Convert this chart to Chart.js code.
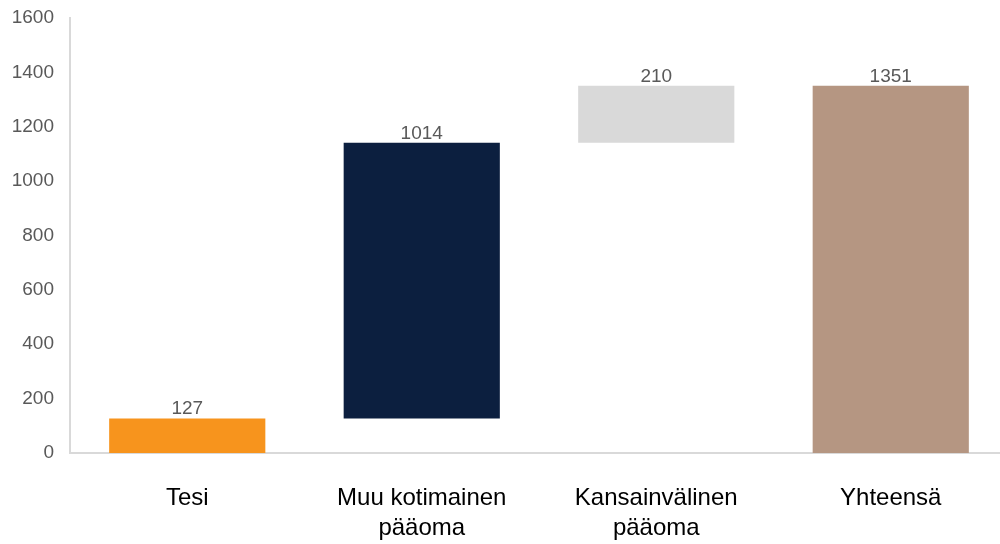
<!DOCTYPE html>
<html>
<head>
<meta charset="utf-8">
<script src="https://cdn.jsdelivr.net/npm/chart.js@4.4.1/dist/chart.umd.min.js"></script>
<style>
  html, body { margin:0; padding:0; background:#fff; overflow:hidden; width:1000px; height:544px; }
  #wrap { width:1008px; height:544px; position:relative; }
</style>
</head>
<body>
<div id="wrap"><canvas id="c"></canvas></div>
<script>
const categories = [["Tesi"], ["Muu kotimainen", "pääoma"], ["Kansainvälinen", "pääoma"], ["Yhteensä"]];
const values = [127, 1014, 210, 1351];
const isTotal = [false, false, false, true];
const barColors = ["#F7941D", "#0C1F3F", "#D9D9D9", "#B59682"];
const yTicks = [0, 200, 400, 600, 800, 1000, 1200, 1400, 1600];

// floating bars built from the values (waterfall)
let running = 0;
const floating = values.map((v, i) => {
  if (isTotal[i]) { running = v; return [0, v]; }
  const start = running; running += v; return [start, running];
});

const labelPlugin = {
  id: 'valueLabels',
  afterDatasetsDraw(chart) {
    const ctx = chart.ctx;
    const meta = chart.getDatasetMeta(0);
    ctx.save();
    ctx.font = '19px "Liberation Sans", Arial, sans-serif';
    ctx.fillStyle = '#595959';
    ctx.textAlign = 'center';
    ctx.textBaseline = 'alphabetic';
    meta.data.forEach((el, i) => {
      const top = Math.min(el.y, el.base);
      ctx.fillText(String(values[i]), el.x, top - 4);
    });
    ctx.restore();
  }
};

new Chart(document.getElementById('c'), {
  type: 'bar',
  data: {
    labels: categories,
    datasets: [{
      data: floating,
      backgroundColor: barColors,
      borderWidth: 0,
      barPercentage: 1,
      categoryPercentage: 0.666
    }]
  },
  options: {
    responsive: true,
    maintainAspectRatio: false,
    animation: false,
    layout: { padding: { top: 18, left: 0, right: 0, bottom: 0 } },
    plugins: { legend: { display: false }, tooltip: { enabled: false } },
    scales: {
      x: {
        grid: { display: false, drawTicks: false },
        border: { display: true, color: '#D9D9D9', width: 2 },
        ticks: {
          color: '#000000',
          font: { family: '"Liberation Sans", Arial, sans-serif', size: 24, lineHeight: 1.25 },
          padding: 30,
          maxRotation: 0,
          autoSkip: false
        },
        afterFit(scale) { scale.height = 91; scale.paddingLeft = 0; scale.paddingRight = 0; }
      },
      y: {
        min: 0, max: 1600,
        afterBuildTicks(scale) { scale.ticks = yTicks.map(v => ({ value: v })); },
        grid: { display: false, drawTicks: false },
        border: { display: true, color: '#D9D9D9', width: 2 },
        ticks: {
          color: '#595959',
          font: { family: '"Liberation Sans", Arial, sans-serif', size: 19 },
          padding: 16,
          callback: (v) => String(v)
        },
        afterFit(scale) { scale.width = 70; scale.paddingTop = 0; scale.paddingBottom = 0; }
      }
    }
  },
  plugins: [labelPlugin]
});
</script>
</body>
</html>
